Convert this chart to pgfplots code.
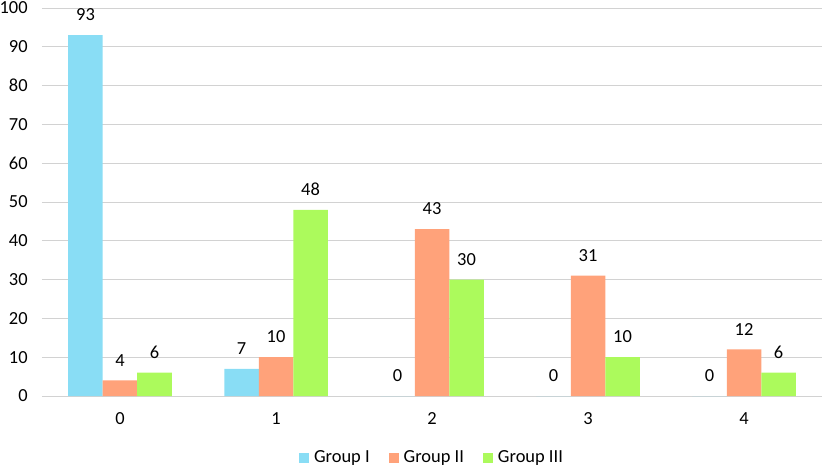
\documentclass[border=0pt]{standalone}
\usepackage{pgfplots}
\pgfplotsset{compat=1.18}
\usepackage{fontspec}
\setmainfont{Carlito}
\definecolor{gA}{RGB}{137,221,245}
\definecolor{gB}{RGB}{255,162,122}
\definecolor{gC}{RGB}{172,250,92}
\definecolor{gridc}{RGB}{210,210,210}
\begin{document}
\begin{tikzpicture}
\fontsize{18.5}{22}\selectfont
\path[use as bounding box] (-42bp,-71bp) rectangle (783bp,396bp);
\begin{axis}[
  scale only axis,
  width=780bp, height=388bp,
  at={(0,0)}, anchor=south west,
  ybar=0pt, bar width=34.5bp,
  xmin=-0.5, xmax=4.5, ymin=0, ymax=100,
  xtick={0,1,2,3,4},
  ytick={0,10,...,100},
  ymajorgrids, grid style={gridc, line width=0.8pt},
  axis x line*=bottom, axis y line*=left,
  x axis line style={gridc, line width=0.8pt, -},
  y axis line style={draw=none},
  major tick length=0pt,
  tick label style={font=\fontsize{18.5}{22}\selectfont},
  /pgf/number format/assume math mode=true,
  yticklabel style={xshift=-8bp},
  xticklabel style={yshift=-10bp},
  nodes near coords,
  every node near coord/.append style={font=\fontsize{18.5}{22}\selectfont, yshift=8bp},
  legend style={at={(0.5,-0.16)}, anchor=center, draw=none, legend columns=-1,
    font=\fontsize{18.5}{22}\selectfont,
    /tikz/every odd column/.append style={column sep=3bp},
    /tikz/every even column/.append style={column sep=17bp}},
  legend image code/.code={\fill[#1] (0bp,-4.5bp) rectangle (10bp,5.5bp);},
]
\addplot[fill=gA, draw=none] coordinates {(0,93) (1,7) (2,0) (3,0) (4,0)};
\addplot[fill=gB, draw=none] coordinates {(0,4) (1,10) (2,43) (3,31) (4,12)};
\addplot[fill=gC, draw=none] coordinates {(0,6) (1,48) (2,30) (3,10) (4,6)};
\legend{Group I, Group II, Group III}
\end{axis}
\end{tikzpicture}
\end{document}
